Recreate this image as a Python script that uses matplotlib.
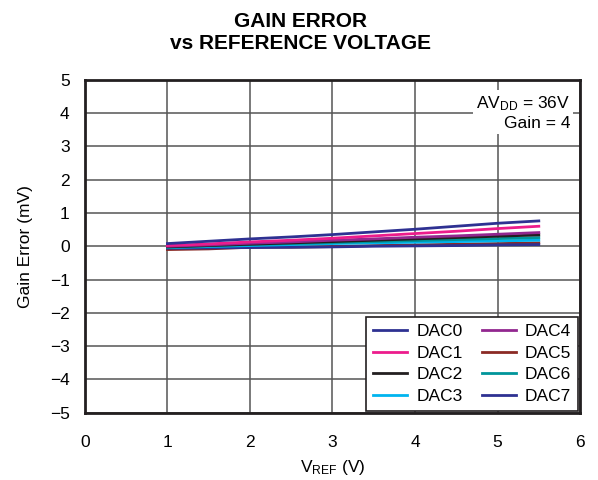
import matplotlib
matplotlib.use("Agg")
import matplotlib.pyplot as plt
import numpy as np

plt.rcParams['font.family'] = ['Liberation Sans', 'DejaVu Sans']
plt.rcParams['mathtext.fontset'] = 'custom'
plt.rcParams['mathtext.rm'] = 'Liberation Sans'
plt.rcParams['mathtext.it'] = 'Liberation Sans'

# Data
vref = [1.0, 1.5, 2.0, 2.5, 3.0, 3.5, 4.0, 4.5, 5.0, 5.5]
dac0 = [0.08, 0.15, 0.22, 0.28, 0.35, 0.43, 0.51, 0.60, 0.69, 0.76]
dac1 = [0.02, 0.07, 0.13, 0.18, 0.24, 0.31, 0.38, 0.45, 0.53, 0.60]
dac2 = [-0.02, 0.02, 0.06, 0.10, 0.14, 0.18, 0.22, 0.26, 0.30, 0.34]
dac3 = [-0.04, -0.01, 0.02, 0.05, 0.08, 0.10, 0.12, 0.14, 0.16, 0.18]
dac4 = [0.00, 0.04, 0.09, 0.13, 0.18, 0.22, 0.27, 0.31, 0.36, 0.41]
dac5 = [-0.10, -0.08, -0.03, -0.03, -0.01, 0.02, 0.04, 0.06, 0.08, 0.10]
dac6 = [-0.03, 0.01, 0.05, 0.08, 0.11, 0.14, 0.17, 0.20, 0.23, 0.26]
dac7 = [-0.06, -0.05, -0.04, -0.03, -0.02, 0.00, 0.01, 0.02, 0.04, 0.05]

labels = ['DAC0', 'DAC1', 'DAC2', 'DAC3', 'DAC4', 'DAC5', 'DAC6', 'DAC7']
colors = ['#2e3192', '#ec1c8c', '#231f20', '#00b4ef',
          '#92278f', '#8b2a25', '#00959a', '#2e3192']
series = [dac0, dac1, dac2, dac3, dac4, dac5, dac6, dac7]

fig = plt.figure(figsize=(5.98, 4.80), dpi=100)
ax = fig.add_axes([0.142, 0.140, 0.828, 0.694])

# draw bottom series first so the top ones overlay like the reference
order = [5, 7, 3, 6, 2, 4, 1, 0]
handles = {}
for i in order:
    h, = ax.plot(vref, series[i], color=colors[i], lw=2.0, label=labels[i], zorder=3)
    handles[i] = h

ax.set_xlim(0, 6)
ax.set_ylim(-5, 5)
ax.set_xticks(np.arange(0, 7, 1))
ax.set_yticks(np.arange(-5, 6, 1))
ax.grid(True, color='#555555', lw=1.1)
ax.tick_params(length=0, labelsize=12.5)
ax.tick_params(axis='x', pad=16)
ax.tick_params(axis='y', pad=11)
for s in ax.spines.values():
    s.set_linewidth(2.0)
    s.set_color('#231f20')

ax.set_xlabel('V$_{REF}$ (V)', fontsize=12.5, labelpad=6)
ax.set_ylabel('Gain Error (mV)', fontsize=12.5, labelpad=12)
fig.text(0.503, 0.932, 'GAIN ERROR\nvs REFERENCE VOLTAGE', ha='center', va='center',
         fontsize=15, fontweight='bold', linespacing=1.2)

ax.text(0.98, 0.955, 'AV$_{DD}$ = 36V\nGain = 4', transform=ax.transAxes,
        ha='right', va='top', fontsize=12.5, linespacing=1.2,
        bbox=dict(facecolor='white', edgecolor='none', pad=2), zorder=4)

leg = ax.legend([handles[i] for i in range(8)], labels, loc='lower right', ncol=2,
                fontsize=12.5, frameon=True, fancybox=False, borderaxespad=0.1,
                handlelength=2.0, handletextpad=0.5, columnspacing=1.1,
                labelspacing=0.38, borderpad=0.4)
leg.get_frame().set_edgecolor('#231f20')
leg.get_frame().set_linewidth(1.2)
leg.get_frame().set_alpha(1)

fig.savefig('out.png', dpi=100)
